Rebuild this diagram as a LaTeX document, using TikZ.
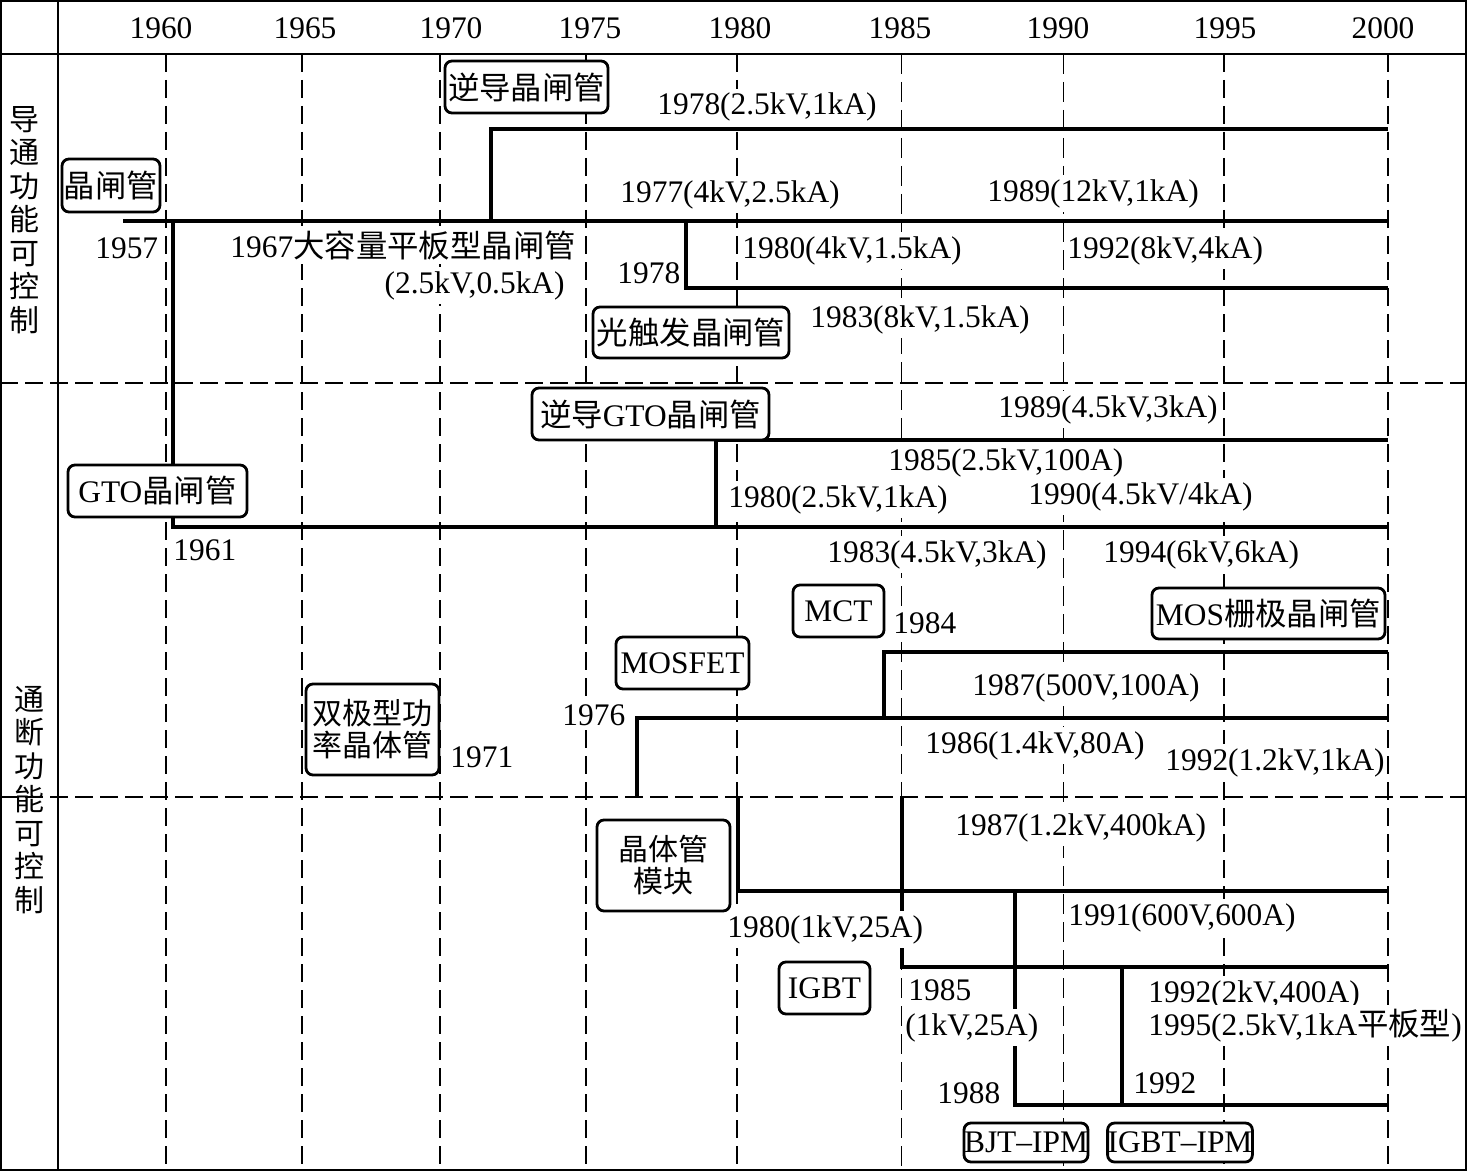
\documentclass[tikz,border=0pt]{standalone}
\usepackage{fontspec}
\setmainfont{Liberation Serif}
\newfontfamily\cjk{Noto Sans CJK SC}
\begin{document}
\begin{tikzpicture}[x=0.5pt,y=-0.5pt,
  gridln/.style={line width=0.9pt,dash pattern=on 9pt off 4pt},
  gridthin/.style={line width=0.5pt,dash pattern=on 10pt off 4pt},
  sepln/.style={line width=0.9pt,dash pattern=on 9pt off 3.5pt},
  tl/.style={line width=1.6pt},
  boxn/.style={draw,line width=1.4pt,rounded corners=3.5pt,fill=white,inner sep=0pt,align=center},
  lbl/.style={anchor=base west,inner xsep=0.5pt,inner ysep=2pt,fill=white},
  yr/.style={anchor=base,inner sep=0pt}]
\fontsize{15.7pt}{18pt}\selectfont
\useasboundingbox (0,0) rectangle (1468,1172);
\fill[white] (0,0) rectangle (1468,1172);
% frame
\draw[line width=1pt] (1,1) rectangle (1466,1170);
\draw[line width=1pt] (0,54) -- (1466,54);
\draw[line width=1pt] (58,0) -- (58,1170);
\draw[sepln] (0,383) -- (1466,383);
\draw[sepln] (0,797) -- (1466,797);
\foreach \x in {166,302,440,586,737,1224,1388} \draw[gridln] (\x,54) -- (\x,1170);
\foreach \x in {901,1063} \draw[gridthin] (\x,54) -- (\x,1170);
% years
\foreach \x/\y in {161/1960,305/1965,451/1970,590/1975,740/1980,900/1985,1058/1990,1225/1995,1383/2000}
  \node[yr] (yr\y) at (\x,39) {\y};
% side labels
\node[align=center,inner sep=0pt,font={\cjk\fontsize{15pt}{16.75pt}\selectfont}] (sideA) at (25,220) {导\\通\\功\\能\\可\\控\\制};
\node[align=center,inner sep=0pt,font={\cjk\fontsize{15pt}{16.75pt}\selectfont}] (sideB) at (30,800) {通\\断\\功\\能\\可\\控\\制};
% timelines
\draw[tl] (123,221) -- (1388,221);
\draw[tl] (173,221) -- (173,527) -- (1388,527);
\draw[tl] (491,221) -- (491,129) -- (1388,129);
\draw[tl] (686,221) -- (686,288) -- (1388,288);
\draw[tl] (716,527) -- (716,440) -- (1388,440);
\draw[tl] (637,797) -- (637,718) -- (1388,718);
\draw[tl] (884,718) -- (884,652) -- (1388,652);
\draw[tl] (738,797) -- (738,891) -- (1388,891);
\draw[tl] (902,797) -- (902,967) -- (1388,967);
\draw[tl] (1015,891) -- (1015,1105) -- (1388,1105);
\draw[tl] (1122,967) -- (1122,1105);
% labels
\node[lbl] (t1) at (656,115) {1978(2.5kV,1kA)};
\node[lbl] (t2) at (619,202) {1977(4kV,2.5kA)};
\node[lbl] (t3) at (986,201) {1989(12kV,1kA)};
\node[lbl] (t4) at (94,258) {1957};
\node[lbl] (t5) at (229,257) {1967{\cjk 大容量平板型晶闸管}};
\node[lbl,anchor=base east] (t6) at (566,293) {(2.5kV,0.5kA)};
\node[lbl] (t7) at (616,283) {1978};
\node[lbl] (t8) at (741,258) {1980(4kV,1.5kA)};
\node[lbl] (t9) at (1066,258) {1992(8kV,4kA)};
\node[lbl] (t10) at (809,327) {1983(8kV,1.5kA)};
\node[lbl] (t11) at (997,417) {1989(4.5kV,3kA)};
\node[lbl] (t12) at (887,470) {1985(2.5kV,100A)};
\node[lbl] (t13) at (727,507) {1980(2.5kV,1kA)};
\node[lbl] (t14) at (1027,504) {1990(4.5kV/4kA)};
\node[lbl] (t15) at (172,560) {1961};
\node[lbl] (t16) at (826,562) {1983(4.5kV,3kA)};
\node[lbl] (t17) at (1102,562) {1994(6kV,6kA)};
\node[lbl] (t18) at (892,633) {1984};
\node[lbl] (t19) at (971,695) {1987(500V,100A)};
\node[lbl] (t20) at (561,725) {1976};
\node[lbl] (t21) at (449,767) {1971};
\node[lbl] (t22) at (924,753) {1986(1.4kV,80A)};
\node[lbl] (t23) at (1164,770) {1992(1.2kV,1kA)};
\node[lbl] (t24) at (954,835) {1987(1.2kV,400kA)};
\node[lbl] (t25) at (726,937) {1980(1kV,25A)};
\node[lbl] (t26) at (1067,925) {1991(600V,600A)};
\node[lbl] (t27) at (907,1000) {1985};
\node[lbl] (t28) at (904,1035) {(1kV,25A)};
\node[lbl] (t29) at (1147,1002) {1992(2kV,400A)};
\node[lbl] (t30) at (1147,1035) {1995(2.5kV,1kA{\cjk 平板型})};
\node[lbl] (t31) at (1132,1093) {1992};
\node[lbl] (t32) at (936,1103) {1988};
% boxes
\node[boxn,minimum width=49pt,minimum height=26.5pt,font=\cjk] (b1) at (111,185.5) {晶闸管};
\node[boxn,minimum width=81.5pt,minimum height=26pt,font=\cjk] (b2) at (526.5,87) {逆导晶闸管};
\node[boxn,minimum width=98pt,minimum height=25.5pt,font=\cjk] (b3) at (691,332.5) {光触发晶闸管};
\node[boxn,minimum width=118.5pt,minimum height=26pt] (b4) at (650.5,414) {{\cjk 逆导}GTO{\cjk 晶闸管}};
\node[boxn,minimum width=89.5pt,minimum height=26pt] (b5) at (157.5,491) {GTO{\cjk 晶闸管}};
\node[boxn,minimum width=45.5pt,minimum height=26pt] (b6) at (838.5,611) {MCT};
\node[boxn,minimum width=66.5pt,minimum height=26pt] (b7) at (682.5,663) {MOSFET};
\node[boxn,minimum width=116.5pt,minimum height=25.5pt] (b8) at (1268.5,613.5) {MOS{\cjk 栅极晶闸管}};
\node[boxn,minimum width=66.5pt,minimum height=45.5pt,font={\cjk\fontsize{15pt}{16pt}\selectfont}] (b9) at (372.5,729.5) {双极型功\\率晶体管};
\node[boxn,minimum width=66.5pt,minimum height=45.5pt,font={\cjk\fontsize{15pt}{16pt}\selectfont}] (b10) at (663.5,865.5) {晶体管\\模块};
\node[boxn,minimum width=45.5pt,minimum height=26pt] (b11) at (824.5,988) {IGBT};
\node[boxn,minimum width=62pt,minimum height=19.5pt] (b12) at (1026,1142.5) {BJT–IPM};
\node[boxn,minimum width=72pt,minimum height=19.5pt] (b13) at (1180,1142.5) {IGBT–IPM};
\end{tikzpicture}
\end{document}
